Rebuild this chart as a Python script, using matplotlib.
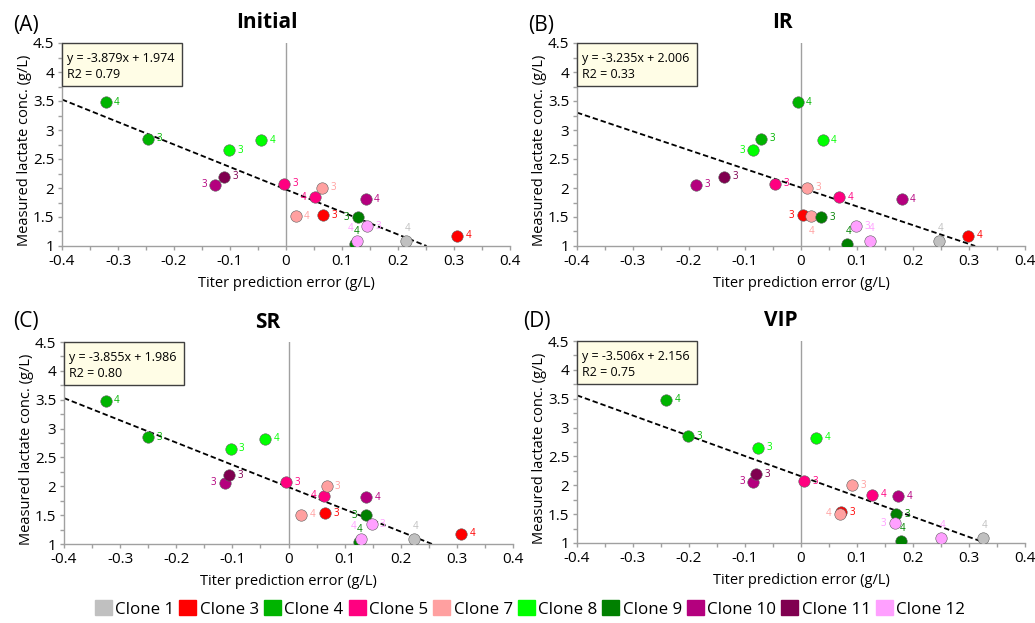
import numpy as np
import matplotlib
matplotlib.use("Agg")
import matplotlib.pyplot as plt
from matplotlib.patches import Patch, Rectangle
from matplotlib.ticker import MultipleLocator

plt.rcParams['font.family'] = ['Open Sans', 'DejaVu Sans']

# ---------------- data ----------------
clones = ["Clone 1", "Clone 3", "Clone 4", "Clone 5", "Clone 7",
          "Clone 8", "Clone 9", "Clone 10", "Clone 11", "Clone 12"]
clone_colors = ["#c0c0c0", "#ff0000", "#00b400", "#ff0080", "#ffa0a0",
                "#00ff00", "#008000", "#b4007e", "#800050", "#ffa0ff"]

# points: (clone index, run label)
point_clone = [0, 1, 1, 2, 2, 3, 3, 4, 4, 5, 5, 6, 6, 7, 7, 8, 9, 9]
point_label = ["4", "3", "4", "3", "4", "3", "4", "3", "4", "3", "4", "3", "4", "3", "4", "3", "3", "4"]

# measured lactate (g/L), same in all panels
lactate = [1.09, 1.53, 1.18, 2.85, 3.48, 2.07, 1.84, 2.00, 1.51,
           2.65, 2.82, 1.50, 1.04, 2.06, 1.81, 2.19, 1.34, 1.09]

panel_names = ["Initial", "IR", "SR", "VIP"]
panel_letters = ["(A)", "(B)", "(C)", "(D)"]

# titer prediction error (g/L) per panel
err_initial = [0.214, 0.066, 0.306, -0.246, -0.322, -0.004, 0.052, 0.064, 0.017,
               -0.102, -0.044, 0.128, 0.124, -0.126, 0.142, -0.111, 0.145, 0.127]
err_ir = [0.247, 0.003, 0.299, -0.071, -0.006, -0.046, 0.068, 0.011, 0.018,
          -0.085, 0.039, 0.036, 0.082, -0.187, 0.180, -0.138, 0.098, 0.124]
err_sr = [0.224, 0.065, 0.308, -0.250, -0.326, -0.004, 0.064, 0.068, 0.023,
          -0.103, -0.042, 0.138, 0.125, -0.114, 0.138, -0.106, 0.148, 0.129]
err_vip = [0.325, 0.072, np.nan, -0.201, -0.241, 0.005, 0.127, 0.091, 0.069,
           -0.076, 0.027, 0.170, 0.178, -0.085, 0.174, -0.080, 0.167, 0.250]
errors = [err_initial, err_ir, err_sr, err_vip]

# regression fits shown in each panel
slopes = [-3.879, -3.235, -3.855, -3.506]
intercepts = [1.974, 2.006, 1.986, 2.156]
r2_values = ["0.79", "0.33", "0.80", "0.75"]

# label placement (index of point -> side); default right
label_side = [
    {13: 'l', 6: 'l', 11: 'l', 17: 'al', 12: 'a', 0: 'a'},
    {9: 'l', 1: 'l', 8: 'b', 12: 'a', 0: 'a', 17: 'a'},
    {13: 'l', 6: 'l', 11: 'l', 17: 'al', 12: 'a', 0: 'a'},
    {13: 'l', 8: 'l', 16: 'l', 12: 'a', 0: 'a', 17: 'a'},
]
offsets = {'r': (6, 0, 'left'), 'l': (-6, 0, 'right'), 'a': (1, 9, 'center'),
           'al': (-5, 9, 'center'), 'b': (0, -11, 'center')}

# ---------------- figure ----------------
fig = plt.figure(figsize=(10.35, 6.23), dpi=100)
W, H = 1035, 623
boxes = [(62, 43, 510, 246), (577, 43, 1025, 246),
         (64, 342, 513, 544), (577, 341, 1025, 543)]
title_xy = [(267, 22), (782, 22), (268, 322), (781, 321)]
letter_xy = [(26, 25), (541, 25), (26, 322), (537, 321)]

spine_col = "#a0a0a0"
for p in range(4):
    l, t, r, b = boxes[p]
    ax = fig.add_axes([l / W, (H - b) / H, (r - l) / W, (b - t) / H])
    ax.set_xlim(-0.4, 0.4)
    ax.set_ylim(1, 4.5)
    for s in ['top', 'right']:
        ax.spines[s].set_visible(False)
    for s in ['left', 'bottom']:
        ax.spines[s].set_color(spine_col)
        ax.spines[s].set_linewidth(1.0)
    ax.xaxis.set_minor_locator(MultipleLocator(0.05))
    ax.yaxis.set_minor_locator(MultipleLocator(0.25))
    ax.tick_params(which='both', direction='out', color=spine_col, width=1.0)
    ax.tick_params(which='major', length=3, labelsize=11, pad=2.5)
    ax.tick_params(which='minor', length=3)
    xt = np.round(np.arange(-0.4, 0.41, 0.1), 1)
    ax.set_xticks(xt)
    ax.set_xticklabels([("%g" % v) if v != 0 else "0" for v in xt])
    yt = np.arange(1, 4.51, 0.5)
    ax.set_yticks(yt)
    ax.set_yticklabels(["%g" % v for v in yt])

    ax.axvline(0, color=spine_col, lw=1.0, zorder=1)

    # regression line
    xs = np.array([-0.4, (1 - intercepts[p]) / slopes[p]])
    ax.plot(xs, slopes[p] * xs + intercepts[p], color='black', lw=1.3,
            ls=(0, (3, 1.6)), zorder=2)

    x = errors[p]
    for i in range(len(x)):
        if np.isnan(x[i]):
            continue
        c = clone_colors[point_clone[i]]
        ax.scatter([x[i]], [lactate[i]], s=68, color=c, edgecolor='#606060',
                   linewidth=0.4, zorder=3, clip_on=True)
        side = label_side[p].get(i, 'r')
        dx, dy, ha = offsets[side]
        ax.annotate(point_label[i], (x[i], lactate[i]), xytext=(dx, dy),
                    textcoords='offset points', ha=ha, va='center',
                    fontsize=7, color=c, zorder=4, annotation_clip=False)

    # equation box
    ax.add_patch(Rectangle((0, 0.788), 0.268, 0.212, transform=ax.transAxes,
                           facecolor='#fffde6', edgecolor='#404040', lw=1.0,
                           zorder=5, clip_on=False))
    ax.text(0.012, 0.925, "y = %.3fx + %.3f" % (slopes[p], intercepts[p]),
            transform=ax.transAxes, fontsize=9, va='center', ha='left', zorder=6)
    ax.text(0.012, 0.845, "R2 = %s" % r2_values[p],
            transform=ax.transAxes, fontsize=9, va='center', ha='left', zorder=6)

    ax.set_xlabel("Titer prediction error (g/L)", fontsize=10.5)
    ax.set_ylabel("Measured lactate conc. (g/L)", fontsize=10.5)
    ax.xaxis.set_label_coords(0.5, -0.15)
    ax.yaxis.set_label_coords(-0.066, 0.47)

    tx, ty = title_xy[p]
    ax.text((tx - l) / (r - l), 1 + (t - ty) / (b - t), panel_names[p],
            transform=ax.transAxes, fontsize=15, fontweight='bold',
            ha='center', va='center')
    lx, ly = letter_xy[p]
    ax.text((lx - l) / (r - l), 1 + (t - ly) / (b - t), panel_letters[p],
            transform=ax.transAxes, fontsize=15, ha='center', va='center')

handles = [Patch(facecolor=c, edgecolor=c) for c in clone_colors]
fig.legend(handles, clones, loc='center', bbox_to_anchor=(0.512, 1 - 609 / H),
           ncol=10, frameon=False, fontsize=12.2, handlelength=1.0,
           handleheight=1.0, handletextpad=0.2, columnspacing=0.3,
           borderaxespad=0)

fig.savefig("out.png", dpi=100)
